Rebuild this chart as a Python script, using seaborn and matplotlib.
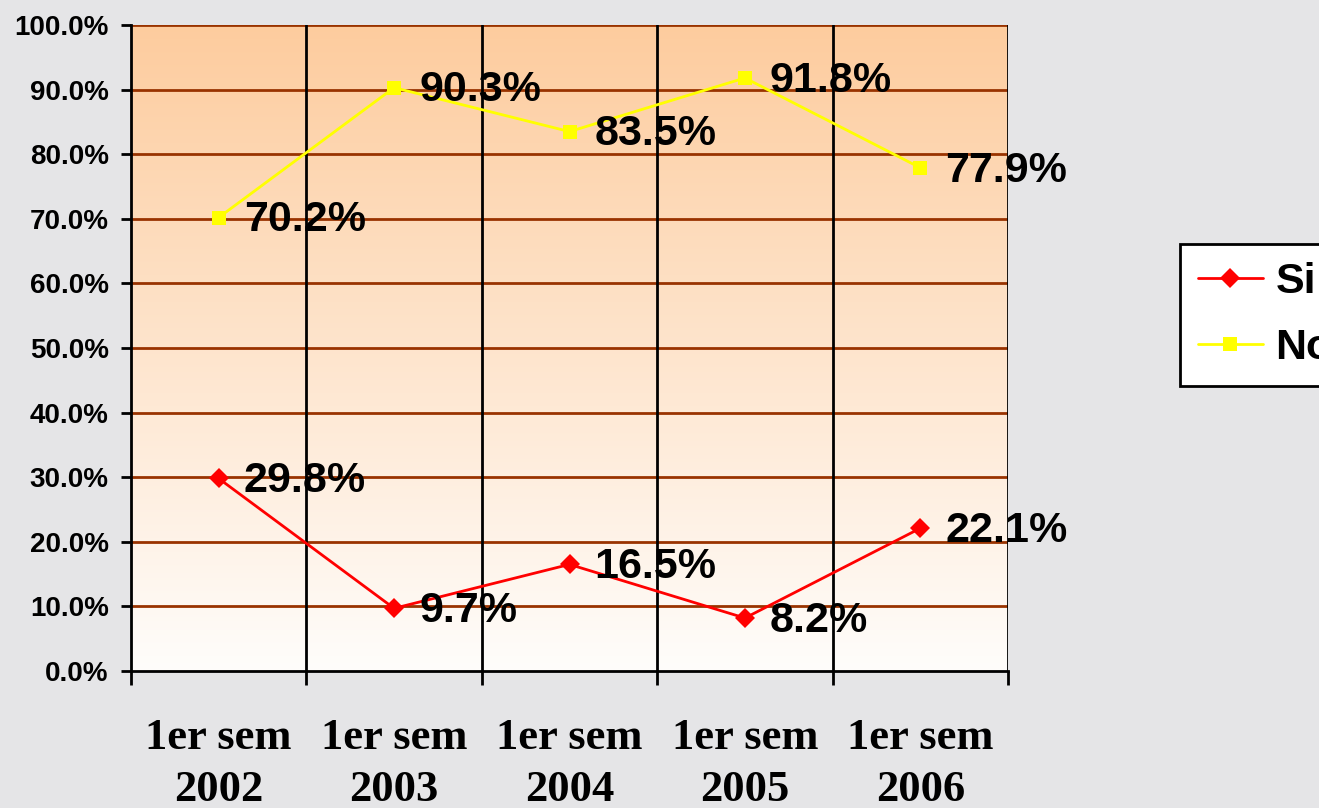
import numpy as np
import pandas as pd
import matplotlib
matplotlib.use("Agg")
import matplotlib.pyplot as plt
import seaborn as sns

categories = ["1er sem\n2002", "1er sem\n2003", "1er sem\n2004", "1er sem\n2005", "1er sem\n2006"]
si_values = [29.8, 9.7, 16.5, 8.2, 22.1]
no_values = [70.2, 90.3, 83.5, 91.8, 77.9]
y_ticks = [0, 10, 20, 30, 40, 50, 60, 70, 80, 90, 100]

sns.set_theme(style="white")
plt.rcParams['font.family'] = ['Liberation Sans', 'DejaVu Sans']
plt.rcParams['text.color'] = 'black'

df = pd.DataFrame({
    "x": list(range(len(categories))) * 2,
    "value": si_values + no_values,
    "serie": ["Si"] * len(si_values) + ["No"] * len(no_values),
})

fig = plt.figure(figsize=(13.19, 8.08), dpi=100, facecolor="#E5E5E7")
ax = fig.add_axes([131 / 1319, 1 - 671 / 808, (1008 - 131) / 1319, (671 - 25) / 808])

# gradient background of plot area
grad = np.linspace(0, 1, 256).reshape(-1, 1)
top = np.array([253, 204, 158]) / 255
bot = np.array([255, 253, 251]) / 255
img = top[None, None, :] * (1 - grad[..., None]) + bot[None, None, :] * grad[..., None]
ax.imshow(img, extent=(-0.5, len(categories) - 0.5, 0, 100), aspect="auto", zorder=0)

sns.lineplot(data=df, x="x", y="value", hue="serie", style="serie",
             palette={"Si": "#FF0000", "No": "#FFFF00"},
             markers={"Si": "D", "No": "s"}, dashes=False,
             linewidth=2, markersize=10, markeredgewidth=0, ax=ax, zorder=3)

ax.set_xlim(-0.5, len(categories) - 0.5)
ax.set_ylim(0, 100)
ax.set_yticks(y_ticks)
ax.set_yticklabels([f"{v:.1f}%" for v in y_ticks], fontsize=20, fontweight="bold", color="black")
ax.set_xticks(range(len(categories)))
ax.set_xticklabels(categories, fontsize=32, fontweight="bold", family=["Liberation Serif"],
                   color="black", linespacing=1.38)
ax.set_xticks(np.arange(-0.5, len(categories)), minor=True)
ax.tick_params(axis="x", which="major", length=0, pad=34)
ax.tick_params(axis="x", which="minor", length=10, width=2, direction="out", bottom=True, color="black")
ax.tick_params(axis="y", which="major", length=7, width=2, pad=9, left=True, color="black")
ax.set_xlabel("")
ax.set_ylabel("")

for yv in y_ticks[1:]:
    ax.axhline(yv, color="#993300", linewidth=2, zorder=1.5)
for xv in np.arange(0.5, len(categories) - 0.5):
    ax.axvline(xv, color="black", linewidth=2, zorder=1.5)
ax.axvline(len(categories) - 0.5, color="black", linewidth=2, zorder=1.5)

for s in ["top", "right"]:
    ax.spines[s].set_visible(False)
for s in ["left", "bottom"]:
    ax.spines[s].set_visible(True)
    ax.spines[s].set_color("black")
    ax.spines[s].set_linewidth(2)

for i, v in enumerate(si_values):
    ax.annotate(f"{v:.1f}%", (i, v), xytext=(18, -2), textcoords="offset points",
                ha="left", va="center", fontsize=31, fontweight="bold", color="black", zorder=5)
for i, v in enumerate(no_values):
    ax.annotate(f"{v:.1f}%", (i, v), xytext=(18, -2), textcoords="offset points",
                ha="left", va="center", fontsize=31, fontweight="bold", color="black", zorder=5)

handles, labels = ax.get_legend_handles_labels()
ax.get_legend().remove()
leg = fig.legend(handles, labels, loc="upper left", bbox_to_anchor=(1180 / 1319, 1 - 244 / 808),
                 frameon=True, fancybox=False, edgecolor="black", facecolor="white", framealpha=1,
                 prop={"size": 31, "weight": "bold"}, handlelength=1.5, handletextpad=0.3,
                 borderpad=0.42, labelspacing=0.6, borderaxespad=0)
leg.get_frame().set_linewidth(2)
for t in leg.get_texts():
    t.set_color("black")

fig.savefig("out.png", dpi=100, facecolor=fig.get_facecolor())
